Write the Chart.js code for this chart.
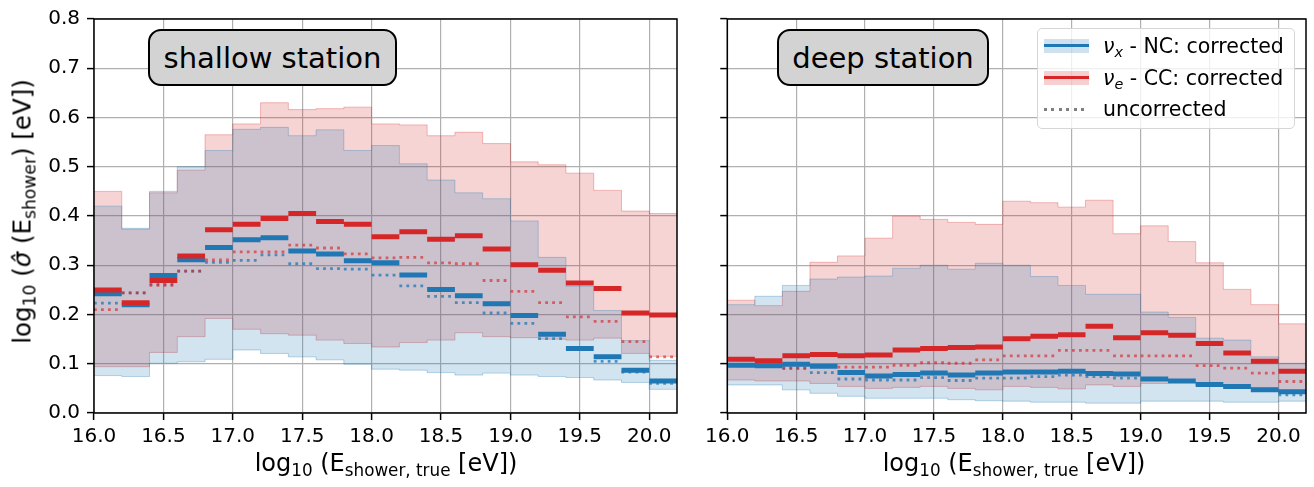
<!DOCTYPE html>
<html>
<head>
<meta charset="utf-8">
<script src="https://cdn.jsdelivr.net/npm/chart.js@4.4.0/dist/chart.umd.min.js"></script>
<style>
  body { margin: 0; background: #fff; font-family: 'DejaVu Sans', sans-serif; }
  #wrap { position: relative; width: 1314px; height: 487px; overflow: hidden; }
  canvas { position: absolute; top: 0; }
  .xtitle { position: absolute; top: 449px; width: 584px; text-align: center; font-size: 24px; white-space: nowrap; }
  .ytitle { position: absolute; left: -178px; top: 197px; width: 400px; text-align: center; font-size: 24.5px;
            white-space: nowrap; transform: rotate(-90deg); }
  sub { font-size: 70%; vertical-align: -0.28em; line-height: 0; }
  .tag { position: absolute; top: 29px; height: 57px; line-height: 55px; text-align: center; font-size: 29px;
         background: #d3d3d3; border: 2px solid #000; border-radius: 13px; box-sizing: border-box; }
  #legend { position: absolute; left: 1037px; top: 28px; width: 258px; height: 101px; box-sizing: border-box;
            background: rgba(255,255,255,0.8); border: 1px solid #d6d6d6; border-radius: 5px; font-size: 20.5px; }
  .row { position: absolute; left: 0; height: 30px; line-height: 30px; white-space: nowrap; }
  .row .txt { position: absolute; left: 65px; top: 0; }
  .hd { position: absolute; left: 6px; top: 8px; width: 45px; height: 14px; box-sizing: border-box; }
  .hd i { position: absolute; left: 0; right: 0; top: 5px; height: 3px; }
  .dots { position: absolute; left: 6px; top: 14px; width: 40px; height: 3px;
          background: repeating-linear-gradient(90deg, #7f7f7f 0 3px, transparent 3px 7.5px); }
</style>
</head>
<body>
<div id="wrap">
  <canvas id="shallow" width="690" height="487" style="left:0"></canvas>
  <canvas id="deep" width="614" height="487" style="left:700px"></canvas>

  <div class="ytitle">log<sub>10</sub> (<i>σ̂</i> (E<sub>shower</sub>) [eV])</div>
  <div class="xtitle" style="left:94px">log<sub>10</sub> (E<sub>shower, true</sub> [eV])</div>
  <div class="xtitle" style="left:722px">log<sub>10</sub> (E<sub>shower, true</sub> [eV])</div>

  <div class="tag" style="left:148px; width:249px">shallow station</div>
  <div class="tag" style="left:777px; width:212px">deep station</div>

  <div id="legend">
    <div class="row" style="top:2px">
      <span class="hd" style="background:rgba(31,119,180,0.22)"><i style="background:#1f77b4"></i></span>
      <span class="txt"><i>ν</i><sub><i>x</i></sub> - NC: corrected</span>
    </div>
    <div class="row" style="top:34px">
      <span class="hd" style="background:rgba(214,39,40,0.22)"><i style="background:#d62728"></i></span>
      <span class="txt"><i>ν</i><sub><i>e</i></sub> - CC: corrected</span>
    </div>
    <div class="row" style="top:65px">
      <span class="dots"></span>
      <span class="txt">uncorrected</span>
    </div>
  </div>
</div>

<script>
// bins of log10(E) and ticks
const binEdges = [16.0, 16.2, 16.4, 16.6, 16.8, 17.0, 17.2, 17.4, 17.6, 17.8, 18.0,
                  18.2, 18.4, 18.6, 18.8, 19.0, 19.2, 19.4, 19.6, 19.8, 20.0, 20.2];
const xTicks = [16.0, 16.5, 17.0, 17.5, 18.0, 18.5, 19.0, 19.5, 20.0];
const yTicks = [0.0, 0.1, 0.2, 0.3, 0.4, 0.5, 0.6, 0.7, 0.8];

// shallow station, nu_x NC
const shallowNcCorr   = [0.242, 0.220, 0.279, 0.311, 0.336, 0.352, 0.356, 0.329, 0.323, 0.309, 0.305,
                         0.280, 0.251, 0.238, 0.222, 0.198, 0.160, 0.131, 0.114, 0.087, 0.065];
const shallowNcUncorr = [0.223, 0.244, 0.261, 0.288, 0.306, 0.310, 0.321, 0.303, 0.293, 0.292, 0.280,
                         0.258, 0.237, 0.224, 0.203, 0.182, 0.151, 0.131, 0.105, 0.083, 0.060];
const shallowNcHigh   = [0.420, 0.375, 0.450, 0.500, 0.533, 0.576, 0.580, 0.563, 0.575, 0.533, 0.543,
                         0.506, 0.473, 0.447, 0.435, 0.390, 0.316, 0.257, 0.208, 0.147, 0.107];
const shallowNcLow    = [0.076, 0.074, 0.101, 0.104, 0.109, 0.128, 0.121, 0.114, 0.108, 0.099, 0.089,
                         0.087, 0.082, 0.077, 0.081, 0.077, 0.074, 0.072, 0.067, 0.062, 0.048];
// shallow station, nu_e CC
const shallowCcCorr   = [0.250, 0.224, 0.269, 0.319, 0.372, 0.383, 0.395, 0.405, 0.389, 0.383, 0.358,
                         0.368, 0.353, 0.360, 0.333, 0.301, 0.290, 0.264, 0.253, 0.203, 0.199];
const shallowCcUncorr = [0.210, 0.244, 0.259, 0.288, 0.311, 0.327, 0.327, 0.341, 0.335, 0.323, 0.315,
                         0.316, 0.305, 0.303, 0.269, 0.247, 0.224, 0.195, 0.186, 0.145, 0.114];
const shallowCcHigh   = [0.450, 0.373, 0.447, 0.493, 0.565, 0.587, 0.630, 0.616, 0.618, 0.621, 0.587,
                         0.585, 0.563, 0.570, 0.547, 0.510, 0.504, 0.487, 0.452, 0.410, 0.405];
const shallowCcLow    = [0.094, 0.094, 0.123, 0.155, 0.192, 0.170, 0.161, 0.158, 0.148, 0.141, 0.134,
                         0.143, 0.148, 0.163, 0.155, 0.153, 0.150, 0.148, 0.152, 0.121, 0.115];

// deep station, nu_x NC
const deepNcCorr   = [0.097, 0.096, 0.099, 0.095, 0.082, 0.075, 0.078, 0.081, 0.077, 0.081, 0.083,
                      0.083, 0.085, 0.080, 0.079, 0.069, 0.065, 0.058, 0.054, 0.047, 0.043];
const deepNcUncorr = [0.097, 0.094, 0.090, 0.082, 0.069, 0.067, 0.067, 0.072, 0.066, 0.071, 0.071,
                      0.074, 0.077, 0.074, 0.071, 0.068, 0.064, 0.057, 0.052, 0.046, 0.037];
const deepNcHigh   = [0.220, 0.237, 0.259, 0.272, 0.276, 0.278, 0.294, 0.300, 0.292, 0.304, 0.300,
                      0.277, 0.259, 0.241, 0.241, 0.205, 0.194, 0.152, 0.148, 0.114, 0.101];
const deepNcLow    = [0.057, 0.057, 0.047, 0.040, 0.034, 0.030, 0.030, 0.030, 0.027, 0.025, 0.024,
                      0.022, 0.022, 0.020, 0.020, 0.024, 0.024, 0.024, 0.022, 0.022, 0.024];
// deep station, nu_e CC
const deepCcCorr   = [0.109, 0.106, 0.116, 0.119, 0.116, 0.118, 0.128, 0.131, 0.133, 0.134, 0.151,
                      0.156, 0.159, 0.176, 0.153, 0.163, 0.158, 0.141, 0.122, 0.105, 0.085];
const deepCcUncorr = [0.098, 0.094, 0.092, 0.094, 0.093, 0.093, 0.097, 0.102, 0.101, 0.108, 0.116,
                      0.116, 0.127, 0.127, 0.116, 0.116, 0.116, 0.096, 0.091, 0.081, 0.064];
const deepCcHigh   = [0.229, 0.218, 0.247, 0.306, 0.319, 0.355, 0.400, 0.393, 0.387, 0.383, 0.430,
                      0.427, 0.418, 0.432, 0.364, 0.380, 0.348, 0.305, 0.251, 0.220, 0.181];
const deepCcLow    = [0.067, 0.065, 0.065, 0.060, 0.054, 0.050, 0.052, 0.054, 0.050, 0.047, 0.054,
                      0.052, 0.049, 0.057, 0.054, 0.060, 0.062, 0.058, 0.055, 0.050, 0.045];

const BLUE = '#1f77b4';
const RED = '#d62728';
const FONT = 'DejaVu Sans';

// band edge: value held across each bin, last value repeated at the right edge
function stepPoints(vals) {
  const pts = vals.map((v, i) => ({ x: binEdges[i], y: v }));
  pts.push({ x: binEdges[vals.length], y: vals[vals.length - 1] });
  return pts;
}

// one flat segment per bin, gaps in between
function barPoints(vals) {
  const pts = [];
  vals.forEach((v, i) => {
    pts.push({ x: binEdges[i], y: v }, { x: binEdges[i + 1], y: v }, { x: binEdges[i + 1], y: null });
  });
  return pts;
}

function band(vals, color, fill, fillTarget) {
  return {
    data: stepPoints(vals),
    stepped: true,
    borderColor: color,
    borderWidth: 1,
    backgroundColor: fill,
    fill: fillTarget,
    order: 10,
  };
}

function makeDatasets(ncCorr, ncUnc, ncHigh, ncLow, ccCorr, ccUnc, ccHigh, ccLow) {
  return [
    band(ncHigh, 'rgba(31,119,180,0.3)', 'rgba(31,119,180,0.2)', '+1'),
    band(ncLow, 'rgba(31,119,180,0.3)', 'transparent', false),
    band(ccHigh, 'rgba(214,39,40,0.3)', 'rgba(214,39,40,0.2)', '+1'),
    band(ccLow, 'rgba(214,39,40,0.3)', 'transparent', false),
    { data: barPoints(ncUnc), borderColor: 'rgba(31,119,180,0.75)', borderWidth: 2.8,
      borderDash: [2.8, 4.2], borderCapStyle: 'butt', fill: false, order: 6 },
    { data: barPoints(ccUnc), borderColor: 'rgba(214,39,40,0.65)', borderWidth: 2.8,
      borderDash: [2.8, 4.2], borderCapStyle: 'butt', fill: false, order: 5 },
    { data: barPoints(ncCorr), borderColor: BLUE, borderWidth: 5, borderCapStyle: 'butt', fill: false, order: 2 },
    { data: barPoints(ccCorr), borderColor: RED, borderWidth: 5, borderCapStyle: 'butt', fill: false, order: 1 },
  ];
}

// black box round the plot area, like matplotlib spines
const frame = {
  id: 'frame',
  afterDatasetsDraw(chart) {
    const { ctx, chartArea: a } = chart;
    ctx.save();
    ctx.strokeStyle = '#000';
    ctx.lineWidth = 1.5;
    ctx.strokeRect(a.left, a.top, a.right - a.left, a.bottom - a.top);
    ctx.restore();
  },
};

function makeChart(id, datasets, showYLabels, yWidth, padRight) {
  return new Chart(document.getElementById(id), {
    type: 'line',
    data: { datasets: datasets },
    options: {
      responsive: false,
      animation: false,
      spanGaps: false,
      layout: { padding: { left: 0, top: 17, right: padRight, bottom: 0 } },
      elements: { point: { radius: 0 }, line: { tension: 0 } },
      plugins: { legend: { display: false }, tooltip: { enabled: false } },
      scales: {
        x: {
          type: 'linear',
          min: 16.0,
          max: 20.2,
          afterBuildTicks: (s) => { s.ticks = xTicks.map((v) => ({ value: v })); },
          afterFit: (s) => { s.height = 74; },
          ticks: {
            callback: (v) => v.toFixed(1),
            font: { family: FONT, size: 20 },
            color: '#000',
            padding: 5,
            maxRotation: 0,
            autoSkip: false,
          },
          grid: { color: '#b0b0b0', lineWidth: 1.2, tickColor: '#000', tickLength: 7, tickWidth: 1.5 },
          border: { display: false },
        },
        y: {
          min: 0,
          max: 0.8,
          afterBuildTicks: (s) => { s.ticks = yTicks.map((v) => ({ value: v })); },
          afterFit: (s) => { s.width = yWidth; },
          ticks: {
            callback: (v) => (showYLabels ? v.toFixed(1) : ''),
            font: { family: FONT, size: 20 },
            color: '#000',
            padding: 7,
            autoSkip: false,
          },
          grid: { color: '#b0b0b0', lineWidth: 1.2, tickColor: '#000', tickLength: 7, tickWidth: 1.5 },
          border: { display: false },
        },
      },
    },
    plugins: [frame],
  });
}

makeChart('shallow',
  makeDatasets(shallowNcCorr, shallowNcUncorr, shallowNcHigh, shallowNcLow,
               shallowCcCorr, shallowCcUncorr, shallowCcHigh, shallowCcLow),
  true, 94, 13);
makeChart('deep',
  makeDatasets(deepNcCorr, deepNcUncorr, deepNcHigh, deepNcLow,
               deepCcCorr, deepCcUncorr, deepCcHigh, deepCcLow),
  false, 22, 8);
</script>
</body>
</html>
